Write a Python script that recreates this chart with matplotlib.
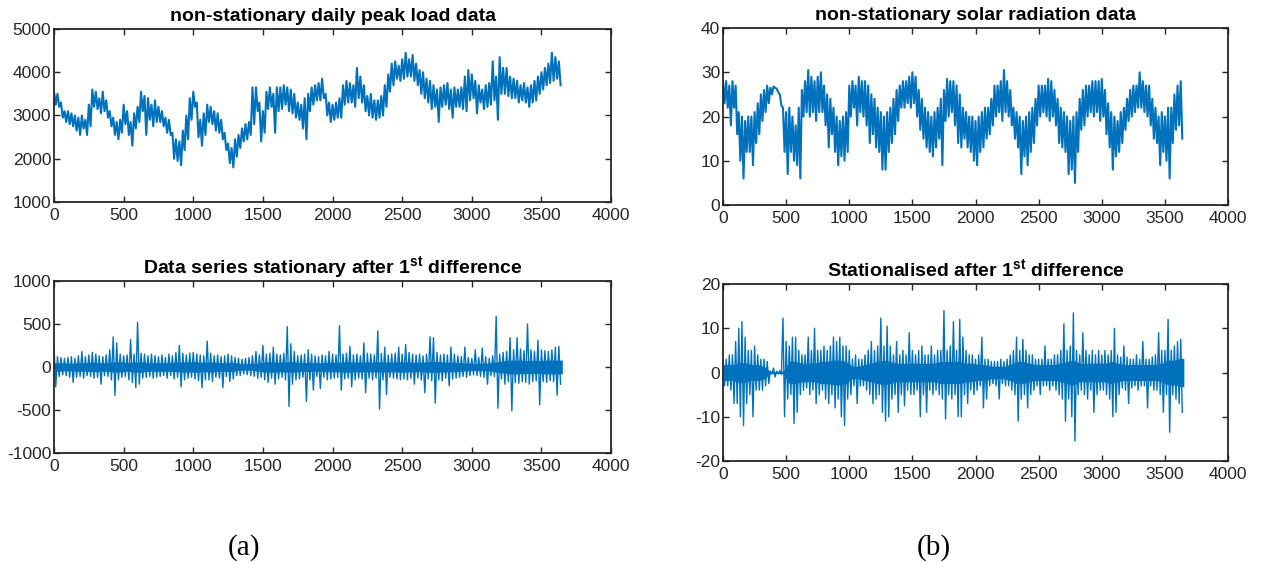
#!/usr/bin/env python3
# -*- coding: utf-8 -*-
"""
Plot non-stationary series and their first differences

(a) daily peak load, (b) solar radiation
Each series is stored as per-bin high / low values (25-day bins),
drawn as a line that alternates between them. The difference panels
also get a dense core band (half-width per 50-day block).
"""

import numpy as np
import matplotlib.pyplot as plt

BIN_DAYS = 25
CORE_DAYS = 50
N_DAYS = 3650
LINE_COLOR = '#0072BD'
TEXT_COLOR = '#262626'

# ---- daily peak load (per 25-day bin) ----
load_hi = [3550, 3500, 3300, 3100, 3100, 3050, 3000, 2950, 3000, 2900,
           3250, 3600, 3550, 3400, 3550, 3350, 3100, 2950, 2850, 2900,
           3250, 3100, 2850, 3050, 3200, 3550, 3450, 3400, 3250, 3350,
           3200, 3100, 2950, 2900, 2600, 2450, 2400, 2650, 3000, 3400,
           3550, 3300, 2900, 3050, 3250, 3200, 3100, 3050, 2900, 2600,
           2350, 2250, 2450, 2550, 2700, 2800, 2850, 3650, 3650, 3300,
           3100, 3550, 3650, 3500, 3650, 3650, 3700, 3650, 3600, 3500,
           3300, 3250, 3400, 3500, 3650, 3700, 3750, 3850, 3500, 3300,
           3250, 3300, 3400, 3700, 3800, 3750, 3700, 4100, 3900, 3700,
           3450, 3500, 3350, 3350, 3450, 3700, 3950, 4200, 4250, 4150,
           4300, 4450, 4300, 4400, 4200, 4050, 4000, 3850, 3800, 3700,
           3600, 3650, 3700, 3750, 3600, 3650, 3600, 3650, 3900, 4050,
           3950, 3800, 3700, 3600, 3700, 3750, 4250, 3900, 4350, 4100,
           4100, 3900, 3850, 3800, 3700, 3750, 3650, 3700, 3800, 3900,
           4000, 4100, 4200, 4450, 4350, 4250]
load_lo = [3250, 3200, 2950, 2850, 2800, 2750, 2650, 2550, 2700, 2550,
           2750, 3200, 3150, 3050, 3100, 2950, 2750, 2550, 2450, 2600,
           2800, 2550, 2300, 2700, 2850, 3100, 2550, 2900, 2750, 2850,
           2850, 2750, 2600, 2550, 2000, 1950, 1850, 2200, 2450, 2900,
           3200, 2500, 2300, 2550, 2850, 2800, 2650, 2600, 2450, 2200,
           1900, 1800, 2050, 2250, 2400, 2450, 2550, 2800, 3100, 2400,
           2600, 3150, 3200, 2600, 3100, 3150, 3250, 3100, 3050, 2950,
           2900, 2700, 2450, 3100, 3250, 3350, 3350, 3400, 3000, 2850,
           2900, 2950, 2950, 3250, 3300, 3300, 3200, 3400, 3300, 3100,
           3000, 2950, 2900, 2950, 3000, 3200, 3550, 3700, 3850, 3800,
           3850, 3900, 3900, 3800, 3700, 3500, 3400, 3300, 3150, 3200,
           2850, 3200, 3250, 3150, 2950, 3200, 3200, 3150, 3100, 3350,
           3400, 3050, 3300, 3150, 3200, 3250, 3350, 2900, 3500, 3500,
           3450, 3400, 3400, 3300, 3350, 3300, 3200, 3300, 3350, 3500,
           3600, 3700, 3750, 3800, 3850, 3700]

# ---- first difference of load ----
dload_hi = [230, 120, 110, 100, 110, 120, 100, 130, 180, 120,
            140, 170, 150, 130, 120, 140, 200, 350, 280, 150,
            130, 140, 320, 150, 520, 160, 150, 130, 150, 130,
            120, 140, 110, 150, 130, 170, 250, 160, 140, 160,
            170, 150, 140, 130, 300, 160, 130, 140, 120, 130,
            150, 130, 110, 100, 90, 100, 110, 130, 180, 140,
            250, 150, 160, 230, 150, 140, 160, 470, 270, 180,
            130, 140, 150, 200, 150, 130, 120, 140, 130, 180,
            150, 140, 480, 150, 160, 240, 140, 150, 130, 280,
            160, 150, 140, 420, 160, 230, 140, 150, 160, 230,
            150, 260, 170, 150, 140, 150, 130, 150, 350, 340,
            170, 140, 150, 140, 230, 150, 130, 120, 230, 110,
            100, 200, 110, 220, 120, 100, 130, 590, 150, 170,
            180, 340, 200, 340, 210, 190, 500, 200, 180, 310,
            200, 190, 180, 200, 230, 240]
dload_lo = [-230, -110, -90, -100, -120, -180, -120, -110, -130, -100,
            -110, -130, -120, -200, -100, -110, -150, -330, -150, -120,
            -110, -150, -180, -240, -200, -130, -120, -110, -130, -120,
            -110, -100, -130, -100, -140, -120, -230, -150, -130, -120,
            -140, -160, -240, -150, -150, -170, -120, -130, -240, -110,
            -170, -140, -100, -100, -80, -90, -100, -110, -130, -120,
            -150, -180, -130, -200, -140, -120, -150, -460, -200, -150,
            -140, -120, -400, -150, -270, -110, -250, -120, -150, -140,
            -130, -120, -270, -140, -130, -230, -150, -130, -140, -300,
            -130, -150, -130, -490, -150, -320, -120, -130, -140, -150,
            -140, -150, -130, -200, -130, -150, -300, -140, -160, -420,
            -150, -160, -130, -220, -140, -130, -120, -110, -120, -100,
            -90, -100, -110, -120, -200, -100, -110, -480, -140, -200,
            -170, -510, -180, -190, -170, -180, -200, -170, -160, -440,
            -170, -180, -160, -170, -330, -200]
# dense core half-width (per 50-day block)
dload_core = [50, 45, 45, 50, 50, 55, 50, 50, 60, 60,
              50, 60, 60, 50, 50, 50, 50, 55, 60, 60,
              60, 55, 60, 50, 50, 55, 40, 35, 40, 50,
              60, 60, 55, 60, 60, 50, 55, 50, 50, 55,
              55, 60, 60, 55, 60, 55, 60, 60, 55, 60,
              60, 55, 55, 60, 65, 60, 55, 55, 50, 45,
              40, 45, 45, 60, 70, 80, 80, 75, 75, 75,
              80, 80, 80]

# ---- solar radiation ----
solar_hi = [28, 28, 27, 28, 27, 21, 20, 19, 20, 20,
            21, 23, 25, 26, 27, 26.5, 26.8, 26.3, 25, 22,
            21, 22, 20, 18, 22, 26, 28, 30.5, 29, 28,
            29, 30, 27, 25, 24, 22, 20, 19, 20, 21,
            27, 28, 27, 29, 28, 28, 27, 25, 24, 22,
            21, 20, 21, 22, 24, 26, 27, 28, 28, 29,
            30, 29, 26, 24, 22, 21, 20, 21, 22, 24,
            26, 28.5, 28, 28, 27, 25, 22, 21, 20, 20,
            19, 20, 21, 22, 22, 24, 27, 27, 28, 30.5,
            28, 26, 22, 21, 20, 19, 20, 21, 22, 24,
            27, 27, 27, 28.5, 28, 26, 24, 22, 21, 20,
            19, 20, 21, 24, 26, 27, 27, 28, 28, 28,
            28.5, 26, 23, 21, 20, 19, 21, 22, 24, 26,
            27, 27, 30, 28, 27, 27, 24, 22, 20, 21,
            20, 22, 22, 25, 27, 28]
solar_lo = [23, 22, 18, 22, 16, 10, 6, 12, 12, 9,
            14, 16, 19, 21, 23, 25, 26.5, 25.5, 22.5, 12,
            7, 12, 10, 9, 6, 20, 21, 20, 21, 19,
            21, 21, 18, 13, 16, 12, 9, 11, 10, 12,
            20, 22, 18, 21, 20, 18, 14, 16, 13, 12,
            8, 8, 12, 14, 16, 19, 22, 22, 23, 22,
            23, 20, 17, 15, 13, 12, 11, 13, 15, 9,
            19, 20, 21, 18, 14, 13, 15, 13, 12, 10,
            9, 12, 13, 15, 16, 18, 20, 21, 19, 21,
            20, 18, 15, 13, 7, 11, 9, 12, 14, 18,
            20, 21, 20, 19, 20, 18, 14, 13, 12, 7,
            8, 5, 12, 17, 18, 20, 21, 20, 21, 19,
            20, 16, 13, 8, 11, 12, 14, 17, 19, 20,
            21, 22, 22, 21, 20, 18, 15, 14, 9, 12,
            10, 6, 14, 17, 18, 15]

# ---- first difference of solar radiation ----
dsolar_hi = [3, 3, 4, 4, 7, 10, 11.5, 8, 5, 5,
             6, 4, 3, 3, 2.5, 0.3, 1, 0.3, 0.4, 12.3,
             7, 6, 8, 8, 5, 4, 4, 8, 5, 10,
             5, 5, 6, 5, 6, 8, 7, 8, 6, 6,
             5, 3, 4, 3, 3, 4, 5, 7, 5, 6,
             12.3, 6, 10.5, 6, 4, 7, 4, 5, 4, 9,
             5, 4, 5, 6, 4, 4, 6, 4, 5, 5,
             14, 5, 6, 11.5, 5, 12, 8, 5, 4, 4,
             3, 4, 8, 3, 3, 2.5, 2.5, 2.5, 3, 2.5,
             3, 4, 5, 8, 5, 7.5, 5, 4, 4, 3,
             3, 3, 6, 3, 3, 4, 4, 5, 11, 5,
             6, 13.5, 5, 4, 9, 5, 4, 5, 4, 5,
             4, 5, 4, 5, 10, 4, 3.5, 6, 3.5, 3,
             3, 4, 3, 7, 3, 3, 3.5, 4, 9, 5,
             5, 12, 5, 6, 7, 7.5]
dsolar_lo = [-3, -3, -4, -7, -7, -10, -12, -7, -5, -10,
             -4, -4, -4, -3, -2.5, -0.3, -1, -0.3, -0.4, -10,
             -6, -5, -11.5, -9, -5, -4, -3.5, -5, -4, -7,
             -5, -4, -6, -7, -5, -8, -6, -10, -12, -6,
             -5, -3, -7, -3, -3, -4, -5, -7, -6, -5,
             -9, -11, -10, -6, -5, -9, -5, -7.5, -4, -5,
             -5, -4, -10, -5, -9, -4, -5, -4, -5, -6,
             -10.5, -5, -6, -5, -10, -10, -5, -7, -4, -5,
             -4, -3, -8, -6, -3, -2.5, -3, -6, -2.5, -3,
             -3, -4, -5, -11, -6, -5, -8, -5, -4, -3,
             -5, -3, -3, -4, -3, -4, -5, -6, -11, -6,
             -10, -15.5, -5, -4, -5, -6, -4, -9, -5, -4,
             -4, -5, -6, -10, -9, -5, -3.5, -4, -7, -3.5,
             -3, -4, -3, -3, -8, -3, -4, -4, -5, -9,
             -5, -13.5, -5, -6, -7, -9]
# dense core half-width (per 50-day block)
dsolar_core = [1.8, 1.8, 2.2, 2.2, 1.8, 1.8, 1.4, 0.3, 0.2, 0.3,
               2.5, 2.5, 2.1, 2.1, 2.1, 2.5, 2.5, 2.8, 2.8, 2.5,
               1.4, 1.4, 1.8, 2.1, 2.5, 2.8, 2.5, 2.1, 2.1, 2.1,
               2.1, 2.1, 2.1, 2.1, 2.5, 2.5, 2.5, 2.5, 2.1, 2.1,
               1.8, 1.8, 1.4, 1.4, 1.4, 1.8, 2.5, 2.5, 2.1, 1.8,
               1.8, 1.8, 1.8, 2.1, 2.5, 2.8, 2.1, 2.1, 2.1, 2.1,
               2.1, 2.5, 2.1, 1.8, 1.8, 1.8, 1.8, 1.8, 1.8, 2.1,
               2.8, 2.8, 3.2]

X_TICKS = [0, 500, 1000, 1500, 2000, 2500, 3000, 3500, 4000]


def zigzag(hi, lo, step=BIN_DAYS):
    """Interleave bin highs and lows into one line"""
    y = np.empty(2 * len(hi))
    y[0::2] = hi
    y[1::2] = lo
    x = np.arange(len(y)) * step / 2.0
    return x, y


def core_band(core, step=CORE_DAYS):
    """Block centres plus the two ends of the record"""
    core = np.asarray(core, dtype=float)
    centres = np.arange(len(core)) * step + step / 2.0
    x = np.r_[0, centres, N_DAYS]
    c = np.r_[core[0], core, core[-1]]
    return x, c


def style_axes(ax, yticks, title):
    """MATLAB-like boxed axes"""
    ax.set_xlim(0, 4000)
    ax.set_ylim(yticks[0], yticks[-1])
    ax.set_xticks(X_TICKS)
    ax.set_yticks(yticks)
    ax.tick_params(direction='in', top=True, right=True, length=4,
                   width=1, labelsize=12.5, colors='#262626',
                   labelcolor=TEXT_COLOR)
    ax.tick_params(axis='x', pad=4)
    ax.tick_params(axis='y', pad=2)
    for sp in ax.spines.values():
        sp.set_linewidth(1.3)
        sp.set_color('#262626')
    ax.set_title(title, fontsize=14, fontweight='bold', pad=6)


def main():
    plt.rcParams['font.family'] = ['Liberation Sans', 'DejaVu Sans']
    plt.rcParams['axes.unicode_minus'] = False
    plt.rcParams['mathtext.fontset'] = 'custom'
    plt.rcParams['mathtext.bf'] = 'Liberation Sans:bold'
    plt.rcParams['mathtext.rm'] = 'Liberation Sans'

    fig = plt.figure(figsize=(12.62, 5.62), dpi=100)

    ax_tl = fig.add_axes([0.0428, 0.6406, 0.4414, 0.3078])
    ax_bl = fig.add_axes([0.0428, 0.1940, 0.4414, 0.3060])
    ax_tr = fig.add_axes([0.5729, 0.6352, 0.4002, 0.3149])
    ax_br = fig.add_axes([0.5729, 0.1797, 0.4002, 0.3149])

    panels = [
        (ax_tl, load_hi, load_lo, None, [1000, 2000, 3000, 4000, 5000],
         'non-stationary daily peak load data'),
        (ax_bl, dload_hi, dload_lo, dload_core, [-1000, -500, 0, 500, 1000],
         r'Data series stationary after $\mathbf{1^{st}}$ difference'),
        (ax_tr, solar_hi, solar_lo, None, [0, 10, 20, 30, 40],
         'non-stationary solar radiation data'),
        (ax_br, dsolar_hi, dsolar_lo, dsolar_core, [-20, -10, 0, 10, 20],
         r'Stationalised after $\mathbf{1^{st}}$ difference'),
    ]

    for ax, hi, lo, core, yticks, title in panels:
        if core is not None:
            xc, c = core_band(core)
            ax.fill_between(xc, -c, c, color=LINE_COLOR, linewidth=0)
            lw = 1.0
        else:
            lw = 1.5
        x, y = zigzag(hi, lo)
        ax.plot(x, y, color=LINE_COLOR, linewidth=lw)
        style_axes(ax, yticks, title)

    fig.text(0.1933, 0.026, '(a)', fontsize=21, ha='center', va='center',
             family='Liberation Serif')
    fig.text(0.7401, 0.026, '(b)', fontsize=21, ha='center', va='center',
             family='Liberation Serif')

    plt.savefig('out.png', dpi=100)
    plt.close()


if __name__ == "__main__":
    main()
